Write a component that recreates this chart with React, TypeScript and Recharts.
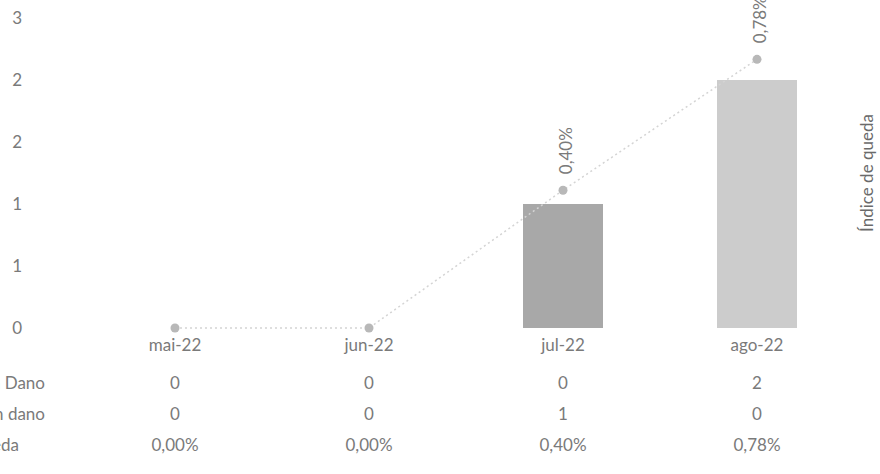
import React from 'react';
import { ComposedChart, Bar, Line, XAxis, YAxis, LabelList, Label } from 'recharts';

const categories = ['mai-22', 'jun-22', 'jul-22', 'ago-22'];
const comDano = [0, 0, 0, 2];
const semDano = [0, 0, 1, 0];
const indiceQueda = [0, 0, 0.004, 0.0078];
const leftTicks = [0, 0.5, 1, 1.5, 2, 2.5];
const rowLabels = ['Queda com Dano', 'Queda sem dano', 'Índice de queda'];

const data = categories.map((c, i) => ({
  cat: c,
  comDano: comDano[i],
  semDano: semDano[i],
  indice: indiceQueda[i],
}));

const FONT = 'Lato, "Open Sans", sans-serif';
const TXT = '#7a7a7a';

const pct = (v: number) => (v * 100).toFixed(2).replace('.', ',') + '%';

const rowOffsets = [38, 69, 100];
const rowLabelEnds = [45, 45, 19];

const XTick = (props: any) => {
  const { x, y, payload } = props;
  const i = payload.index;
  const vals = [String(comDano[i]), String(semDano[i]), pct(indiceQueda[i])];
  return (
    <g fontFamily={FONT} fontSize={17} fill={TXT}>
      <text x={x} y={y + 15} textAnchor="middle" fill={TXT}>{payload.value}</text>
      {vals.map((v, k) => (
        <text key={k} x={x} y={y + 15 + rowOffsets[k]} textAnchor="middle" fill={TXT}>{v}</text>
      ))}
      {i === 0 &&
        rowLabels.map((l, k) => (
          <text key={'l' + k} x={rowLabelEnds[k]} y={y + 15 + rowOffsets[k]} textAnchor="end" fill={TXT}>{l}</text>
        ))}
    </g>
  );
};

const YTick = (props: any) => {
  const { y, payload } = props;
  return (
    <text x={22} y={y} dy={6} textAnchor="end" fontFamily={FONT} fontSize={17} fill={TXT}>
      {Math.round(payload.value)}
    </text>
  );
};

const LineLabel = (props: any) => {
  const { x, y, value } = props;
  if (!value) return null;
  const tx = x + 5;
  const ty = y - 16;
  return (
    <text
      x={tx}
      y={ty}
      transform={`rotate(-90 ${tx} ${ty})`}
      textAnchor="start"
      dominantBaseline="middle"
      fontFamily={FONT}
      fontSize={17}
      fill={TXT}
    >
      {pct(value)}
    </text>
  );
};

export default function App() {
  return (
    <div style={{ position: 'absolute', top: 0, left: 0, background: '#fff' }}>
      <ComposedChart
        width={880}
        height={474}
        data={data}
        margin={{ top: 18, right: 0, bottom: 0, left: 0 }}
        barCategoryGap={0}
      >
        <XAxis
          dataKey="cat"
          axisLine={false}
          tickLine={false}
          height={146}
          tick={<XTick />}
          interval={0}
        />
        <YAxis
          yAxisId="left"
          domain={[0, 2.5]}
          ticks={leftTicks}
          axisLine={false}
          tickLine={false}
          width={78}
          tick={<YTick />}
        />
        <YAxis
          yAxisId="right"
          orientation="right"
          domain={[0, 0.009]}
          axisLine={false}
          tickLine={false}
          tick={false}
          width={26}
        >
          <Label
            value="Índice de queda"
            angle={-90}
            position="center"
            style={{ fontFamily: FONT, fontSize: 17, fill: '#6a6a6a' }}
          />
        </YAxis>
        <Bar yAxisId="left" dataKey="semDano" stackId="a" fill="#a8a8a8" barSize={80} isAnimationActive={false} />
        <Bar yAxisId="left" dataKey="comDano" stackId="a" fill="#cccccc" barSize={80} isAnimationActive={false} />
        <Line
          yAxisId="right"
          dataKey="indice"
          stroke="#d4d4d4"
          strokeWidth={1.5}
          strokeDasharray="2 3"
          dot={{ r: 4.5, fill: '#b8b8b8', stroke: 'none' }}
          isAnimationActive={false}
        >
          <LabelList dataKey="indice" content={<LineLabel />} />
        </Line>
      </ComposedChart>
    </div>
  );
}
